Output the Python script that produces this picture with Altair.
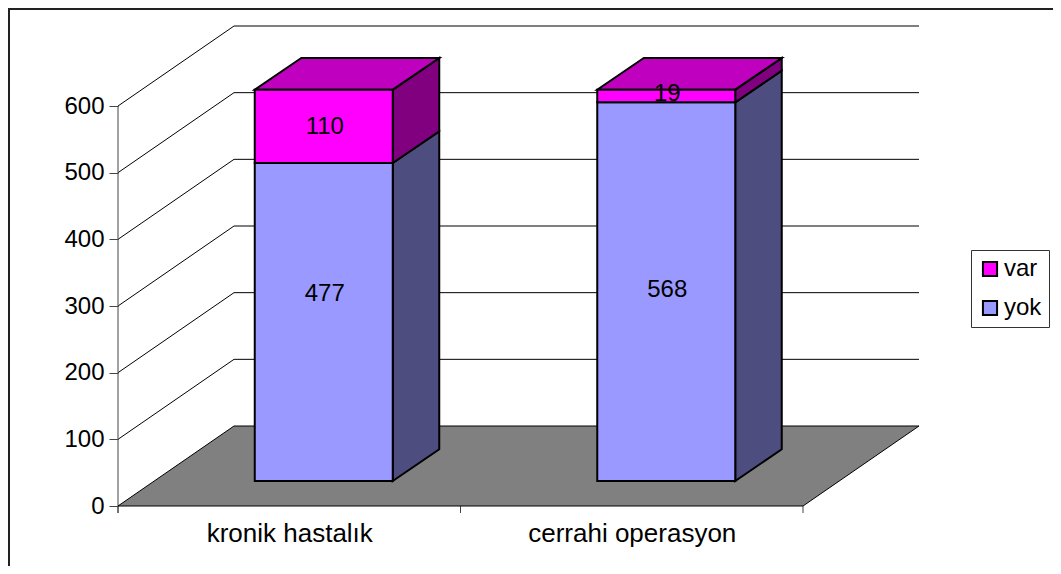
import json
import altair as alt
import pandas as pd

# ---- data ----
categories = ["kronik hastalık", "cerrahi operasyon"]
series_names = ["var", "yok"]
yok_values = [477, 568]
var_values = [110, 19]
y_ticks = [0, 100, 200, 300, 400, 500, 600]

# ---- projection of the 3D look, in data units ----
PX_X = 342.5            # pixels per category
PX_Y = 400 / 600        # pixels per value unit
DEPTH_X = 116 / PX_X    # full depth of the floor
DEPTH_Y = 80 / PX_Y
FRONT_X, FRONT_Y = 34.5 / PX_X, 25 / PX_Y   # bar front face offset
BAR_DX, BAR_DY = 46.5 / PX_X, 31.7 / PX_Y   # bar depth
HALF = 69 / PX_X
W, H = 1045, 558
X_DOM = [(0 - 110) / PX_X, (W - 110) / PX_X]
Y_DOM = [-(H - 498) / PX_Y, 498 / PX_Y]
FS = 24
CAT_FS = 26

xs = alt.Scale(domain=X_DOM, range=[0, W], nice=False, zero=False)
ys = alt.Scale(domain=Y_DOM, range=[H, 0], nice=False, zero=False)
AX = alt.Axis(
    values=[i + 0.5 for i in range(len(categories))],
    labelExpr=json.dumps(categories, ensure_ascii=False) + "[datum.value-0.5]",
    ticks=False, domain=False, grid=False, offset=-(H - 498), labelPadding=14, labelLimit=400,
    labelFont="Liberation Sans", labelFontSize=CAT_FS, labelColor="#000000", title=None)
AY = alt.Axis(
    values=y_ticks, format="d", domain=False, grid=False, offset=-110,
    tickSize=9, tickColor="#444444", labelPadding=5,
    labelFont="Liberation Sans", labelFontSize=FS, labelColor="#000000", title=None)
X = lambda f: alt.X(f, type="quantitative", scale=xs, axis=AX, title=None)
Y = lambda f: alt.Y(f, type="quantitative", scale=ys, axis=AY, title=None, stack=None)

FRONT_COL = {"var": "#FF00FF", "yok": "#9999FF"}
SIDE_COL = {"var": "#800080", "yok": "#4D4D80"}
TOP_COL = "#BF00BF"
BLACK = "#000000"
n = len(categories)

# ---- tables ----
front, side, labels, top = [], [], [], []
for i in range(n):
    cx = i + 0.5 + FRONT_X
    l, r = cx - HALF, cx + HALF
    base = FRONT_Y
    for s, v in (("yok", yok_values[i]), ("var", var_values[i])):
        front.append(dict(s=s, x=l, x2=r, y=base, y2=base + v))
        side += [
            dict(k=f"{i}{s}", s=s, x=r, y=base, y2=base + v),
            dict(k=f"{i}{s}", s=s, x=r + BAR_DX, y=base + BAR_DY, y2=base + v + BAR_DY),
        ]
        nudge = 29 / PX_Y if v == 477 else 3 / PX_Y if i == 1 else 0
        labels.append(dict(x=cx, y=base + v / 2 + nudge, t=str(v)))
        base += v
    top += [
        dict(k=i, y=base, x=l, x2=r),
        dict(k=i, y=base + BAR_DY, x=l + BAR_DX, x2=r + BAR_DX),
    ]
front, side, labels, top = map(pd.DataFrame, (front, side, labels, top))

grid = pd.DataFrame(
    [r for v in y_ticks[1:] for r in (
        dict(v=v, i=0, x=0, y=v),
        dict(v=v, i=1, x=DEPTH_X, y=v + DEPTH_Y),
        dict(v=v, i=2, x=n + DEPTH_X, y=v + DEPTH_Y),
    )]
)
floor = pd.DataFrame([
    dict(y=0, x=0, x2=n),
    dict(y=DEPTH_Y, x=DEPTH_X, x2=n + DEPTH_X),
])

# ---- layers ----
one = pd.DataFrame({"a": [0]})
frame_left = alt.Chart(one).mark_rule(color="#222222", strokeWidth=2).encode(
    x=alt.value(1), y=alt.value(0), y2=alt.value(H))
frame_top = alt.Chart(one).mark_rule(color="#222222", strokeWidth=2).encode(
    x=alt.value(0), x2=alt.value(W), y=alt.value(1))

grid_l = alt.Chart(grid).mark_line(color=BLACK, strokeWidth=1).encode(
    x=X("x"), y=Y("y"), detail="v:N", order="i:Q")
y_line = alt.Chart(pd.DataFrame({"x": [0], "y": [-10.5], "y2": [y_ticks[-1]]})).mark_rule(
    color="#444444", strokeWidth=1).encode(x=X("x"), y=Y("y"), y2="y2")
x_ticks = alt.Chart(pd.DataFrame({"x": list(range(n + 1)), "y": [-10.5] * (n + 1), "y2": [0] * (n + 1)})).mark_rule(
    color="#444444", strokeWidth=1).encode(x=X("x"), y=Y("y"), y2="y2")
floor_l = alt.Chart(floor).mark_area(
    orient="horizontal", color="#808080", stroke=BLACK, strokeWidth=1
).encode(y=Y("y"), x=X("x"), x2="x2")

side_l = alt.Chart(side).mark_area(orient="vertical", stroke=BLACK, strokeWidth=2).encode(
    x=X("x"), y=Y("y"), y2="y2", detail="k:N",
    fill=alt.Fill("s:N", scale=alt.Scale(domain=list(SIDE_COL), range=list(SIDE_COL.values())), legend=None))
top_l = alt.Chart(top).mark_area(orient="horizontal", color=TOP_COL, stroke=BLACK, strokeWidth=2).encode(
    y=Y("y"), x=X("x"), x2="x2", detail="k:N")
front_l = alt.Chart(front).mark_rect(stroke=BLACK, strokeWidth=2).encode(
    x=X("x"), x2="x2", y=Y("y"), y2="y2",
    color=alt.Color("s:N", scale=alt.Scale(domain=series_names, range=[FRONT_COL[s] for s in series_names]),
                    legend=alt.Legend(
                        title=None, orient="none", legendX=963, legendY=242, padding=7,
                        strokeColor="#333333", fillColor="#FFFFFF", symbolType="square",
                        symbolSize=200, symbolStrokeWidth=2, symbolStrokeColor=BLACK,
                        labelFont="Liberation Sans", labelFontSize=FS, labelColor="#000000",
                        rowPadding=15, labelOffset=2)))
text_l = alt.Chart(labels).mark_text(font="Liberation Sans", fontSize=FS, color="#000000",
                                     baseline="middle", dx=1, dy=1).encode(
    x=X("x"), y=Y("y"), text="t:N")

chart = alt.layer(
    frame_left, frame_top, grid_l, y_line, x_ticks, floor_l, side_l, top_l, front_l, text_l
).resolve_scale(color="independent").properties(
    width=W, height=H, padding=0, autosize=alt.AutoSizeParams(type="none")
).configure_view(stroke=None)

chart.save("out.html", embed_options={"renderer": "svg", "actions": False})
